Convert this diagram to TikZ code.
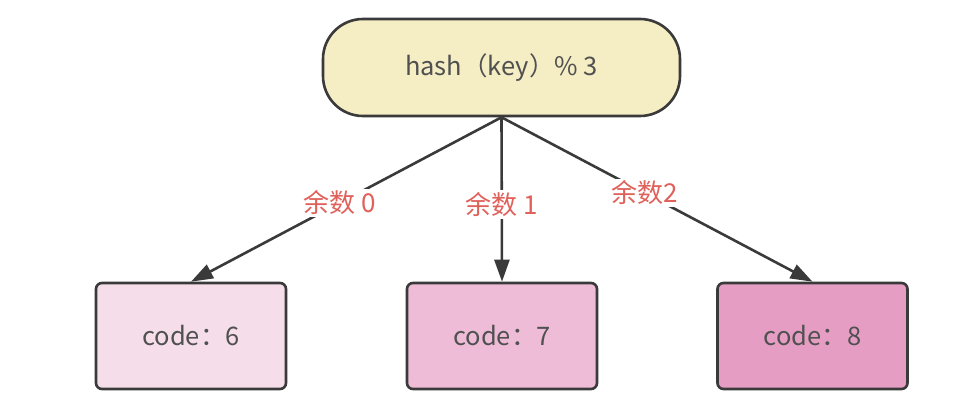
\documentclass[tikz,border=0pt]{standalone}
\usepackage{fontspec}
\setmainfont{Noto Sans CJK SC}
\usetikzlibrary{arrows.meta}
\definecolor{edgec}{HTML}{3A3A3A}
\definecolor{txtc}{HTML}{505050}
\definecolor{lblc}{HTML}{E0605A}
\definecolor{topfill}{HTML}{F5EDC4}
\definecolor{fillA}{HTML}{F5DEEA}
\definecolor{fillB}{HTML}{EFBCD8}
\definecolor{fillC}{HTML}{E69DC4}
\tikzset{
  topbox/.style={draw=edgec, line width=2.6pt, fill=topfill, rounded corners=40pt,
    minimum width=357pt, minimum height=97pt, inner sep=0pt, text=txtc,
    font=\fontsize{25.5}{30}\selectfont},
  codebox/.style={draw=edgec, line width=2.6pt, rounded corners=6pt,
    minimum width=190pt, minimum height=106pt, inner sep=0pt, text=txtc,
    font=\fontsize{25.5}{30}\selectfont},
  conn/.style={draw=edgec, line width=2.6pt, -{Triangle[length=22pt,width=15pt]}},
  lbl/.style={fill=white, text=lblc, inner sep=2pt, font=\fontsize{26}{30}\selectfont}
}
\begin{document}
\begin{tikzpicture}[x=1pt,y=-1pt]
\useasboundingbox (0,0) rectangle (980,406);
\node[topbox] (top) at (501.5,67.5) {hash（key）\% 3};
\node[codebox, fill=fillA] (c6) at (191,336) {code：6};
\node[codebox, fill=fillB] (c7) at (502,336) {code：7};
\node[codebox, fill=fillC] (c8) at (812.5,336) {code：8};
\draw[conn] (top.south) -- (c6.north) node[lbl, pos=0.52] {余数 0};
\draw[conn] (top.south) -- (c7.north) node[lbl, pos=0.53] {余数 1};
\draw[conn] (top.south) -- (c8.north) node[lbl, pos=0.46] {余数2};
\end{tikzpicture}
\end{document}
